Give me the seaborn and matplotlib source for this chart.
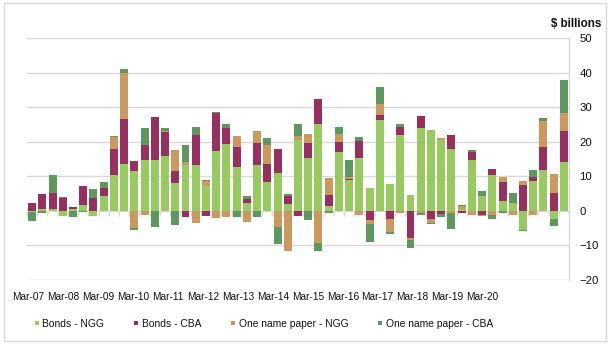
import numpy as np
import matplotlib
matplotlib.use("Agg")
import matplotlib.pyplot as plt
import seaborn as sns
from matplotlib.lines import Line2D
from matplotlib.patches import Rectangle

# Quarterly categories, Mar-07 .. Mar-20
quarters = [f"{m}-{y:02d}" for y in range(7, 21) for m in ("Mar", "Jun", "Sep", "Dec")][:53]
tick_labels = [f"Mar-{y:02d}" for y in range(7, 21)]

# Net issuance, $ billions
bonds_ngg = [-0.3, 0.6, 0.6, -1.4, 0.6, 1.7, -1.4, 4.3, 10.4, 13.6, 11.6, 14.8, 14.8,
             15.9, 8.1, 13.3, 13.3, 7.2, 17.4, 19.4, 12.7, 2.3, 13.3, 8.4, 11.0, 2.0,
             20.5, 15.3, 25.2, 1.4, 17.1, 9.0, 15.3, 6.7, 26.3, 7.8, 22.0, 4.6, 24.0,
             23.4, 20.5, 17.9, 0.6, 14.8, 4.3, 10.4, 2.9, 2.3, -5.5, 8.7, 11.9, -2.3, 14.2]
bonds_cba = [2.3, 4.3, 4.6, 3.8, 0.6, 5.5, 3.8, 2.3, 7.5, 13.0, 2.9, 4.3, 12.4,
             6.9, 3.5, -1.7, 8.7, -1.4, 11.0, 4.6, 5.8, 1.2, 6.4, 5.2, 6.9, 2.3,
             -1.4, 4.3, 7.2, 3.2, 2.9, 0.3, 4.9, -2.6, 1.4, -2.3, 2.3, -7.8, 3.5,
             -2.3, -0.9, 4.1, -0.5, 2.3, -1.2, 1.7, 5.5, 0.0, 7.5, 1.2, 6.7, 5.2, 9.0]
onp_ngg = [0.0, 0.0, 0.0, 0.0, 0.0, 0.0, 0.0, 0.0, 3.5, 13.3, -4.9, -1.2, 0.0,
           0.3, 6.1, 0.9, -3.5, 1.4, -2.0, -1.7, 3.2, -3.2, 3.5, 5.5, -4.6, -11.6,
           1.2, 2.6, -9.3, 4.9, 2.3, 0.6, -1.2, -1.2, 3.2, -3.8, -0.6, -0.6, -0.6,
           -1.2, 0.6, -0.6, 0.9, -1.2, -0.3, -1.2, 1.4, -1.2, 1.2, -1.2, 7.5, 5.5, 5.2]
onp_cba = [-2.6, -0.5, 5.2, 0.2, -1.7, -0.4, 2.6, 1.7, 0.3, 1.2, -0.6, 4.9, -4.6,
           0.9, -4.1, 4.9, 2.3, 0.3, 0.3, 1.2, -1.7, 0.9, -1.7, 2.0, -4.9, 0.6,
           3.5, -2.6, -2.3, -0.6, 2.0, 4.9, 1.2, -5.2, 4.9, -0.6, 0.9, -2.3, -0.6,
           -0.3, -0.9, -4.6, 0.3, 0.6, 1.4, -1.2, -0.6, 2.9, -0.3, 2.0, 0.9, -2.0, 9.5]

series_names = ["Bonds - NGG", "Bonds - CBA", "One name paper - NGG", "One name paper - CBA"]
series_values = [bonds_ngg, bonds_cba, onp_ngg, onp_cba]
series_colors = ["#99CA61", "#98305F", "#CA9960", "#5F9760"]

sns.set_style("white")
plt.rcParams["font.family"] = ["Liberation Sans", "DejaVu Sans"]
plt.rcParams["font.size"] = 7.4
plt.rcParams["text.color"] = "#111111"

fig = plt.figure(figsize=(6.11, 3.45), dpi=100)
ax = fig.add_axes([27 / 611, 1 - 280 / 345, 542 / 611, 242 / 345])

# Stacked bars: positives stack upward, negatives downward
n = len(quarters)
pos_base = np.zeros(n)
neg_base = np.zeros(n)
for vals, color in zip(series_values, series_colors):
    v = np.asarray(vals, dtype=float)
    bottom = np.where(v >= 0, pos_base, neg_base)
    sns.barplot(x=quarters, y=v, order=quarters, bottom=bottom, color=color,
                saturation=1, width=0.78, linewidth=0, errorbar=None, ax=ax)
    pos_base += np.clip(v, 0, None)
    neg_base += np.clip(v, None, 0)

grid_c = "#D9D9D9"
ax.set_ylim(-20, 50)
ax.set_xlim(-0.5, n - 0.5)
ax.set_yticks(range(-20, 51, 10))
ax.yaxis.tick_right()
ax.set_axisbelow(True)
ax.grid(axis="y", color=grid_c, lw=1)
ax.grid(axis="x", visible=False)
ax.tick_params(axis="y", length=0, pad=7.5, labelsize=8.2, labelcolor="#111111")
ax.set_ylabel("")
ax.set_xlabel("")

ax.set_xticks(np.linspace(-0.4, 44.05, len(tick_labels)))
ax.set_xticklabels(tick_labels)
ax.tick_params(axis="x", length=0, pad=8.5, labelsize=7.3, labelcolor="#111111")

for side in ("left", "top", "bottom"):
    ax.spines[side].set_visible(False)
ax.spines["right"].set_color(grid_c)
ax.spines["right"].set_linewidth(1)

# Category separators along the zero line
sec = ax.secondary_xaxis(20 / 70)
sec.set_xticks(np.arange(-0.5, n, 1.0))
sec.set_xticklabels([])
sec.xaxis.set_ticks_position("bottom")
sec.tick_params(length=3.5, width=1, color=grid_c, direction="out")
for s in sec.spines.values():
    s.set_visible(False)

fig.text(601 / 611, 1 - 24 / 345, "$ billions", ha="right", va="center",
         fontsize=8.4, fontweight="bold")

handles = [Line2D([], [], marker="s", linestyle="none", markersize=3.4,
                  markerfacecolor=c, markeredgewidth=0) for c in series_colors]
fig.legend(handles, series_names, ncol=4, loc="center",
           bbox_to_anchor=(263 / 611, 1 - 324 / 345), frameon=False,
           handlelength=0.8, handletextpad=0.15, columnspacing=2.7,
           fontsize=7.4, borderaxespad=0)

fig.patches.append(Rectangle((4 / 611, 4 / 345), 602 / 611, 338 / 345,
                             transform=fig.transFigure, fill=False,
                             edgecolor=grid_c, lw=1))

fig.savefig("out.png", dpi=100)
